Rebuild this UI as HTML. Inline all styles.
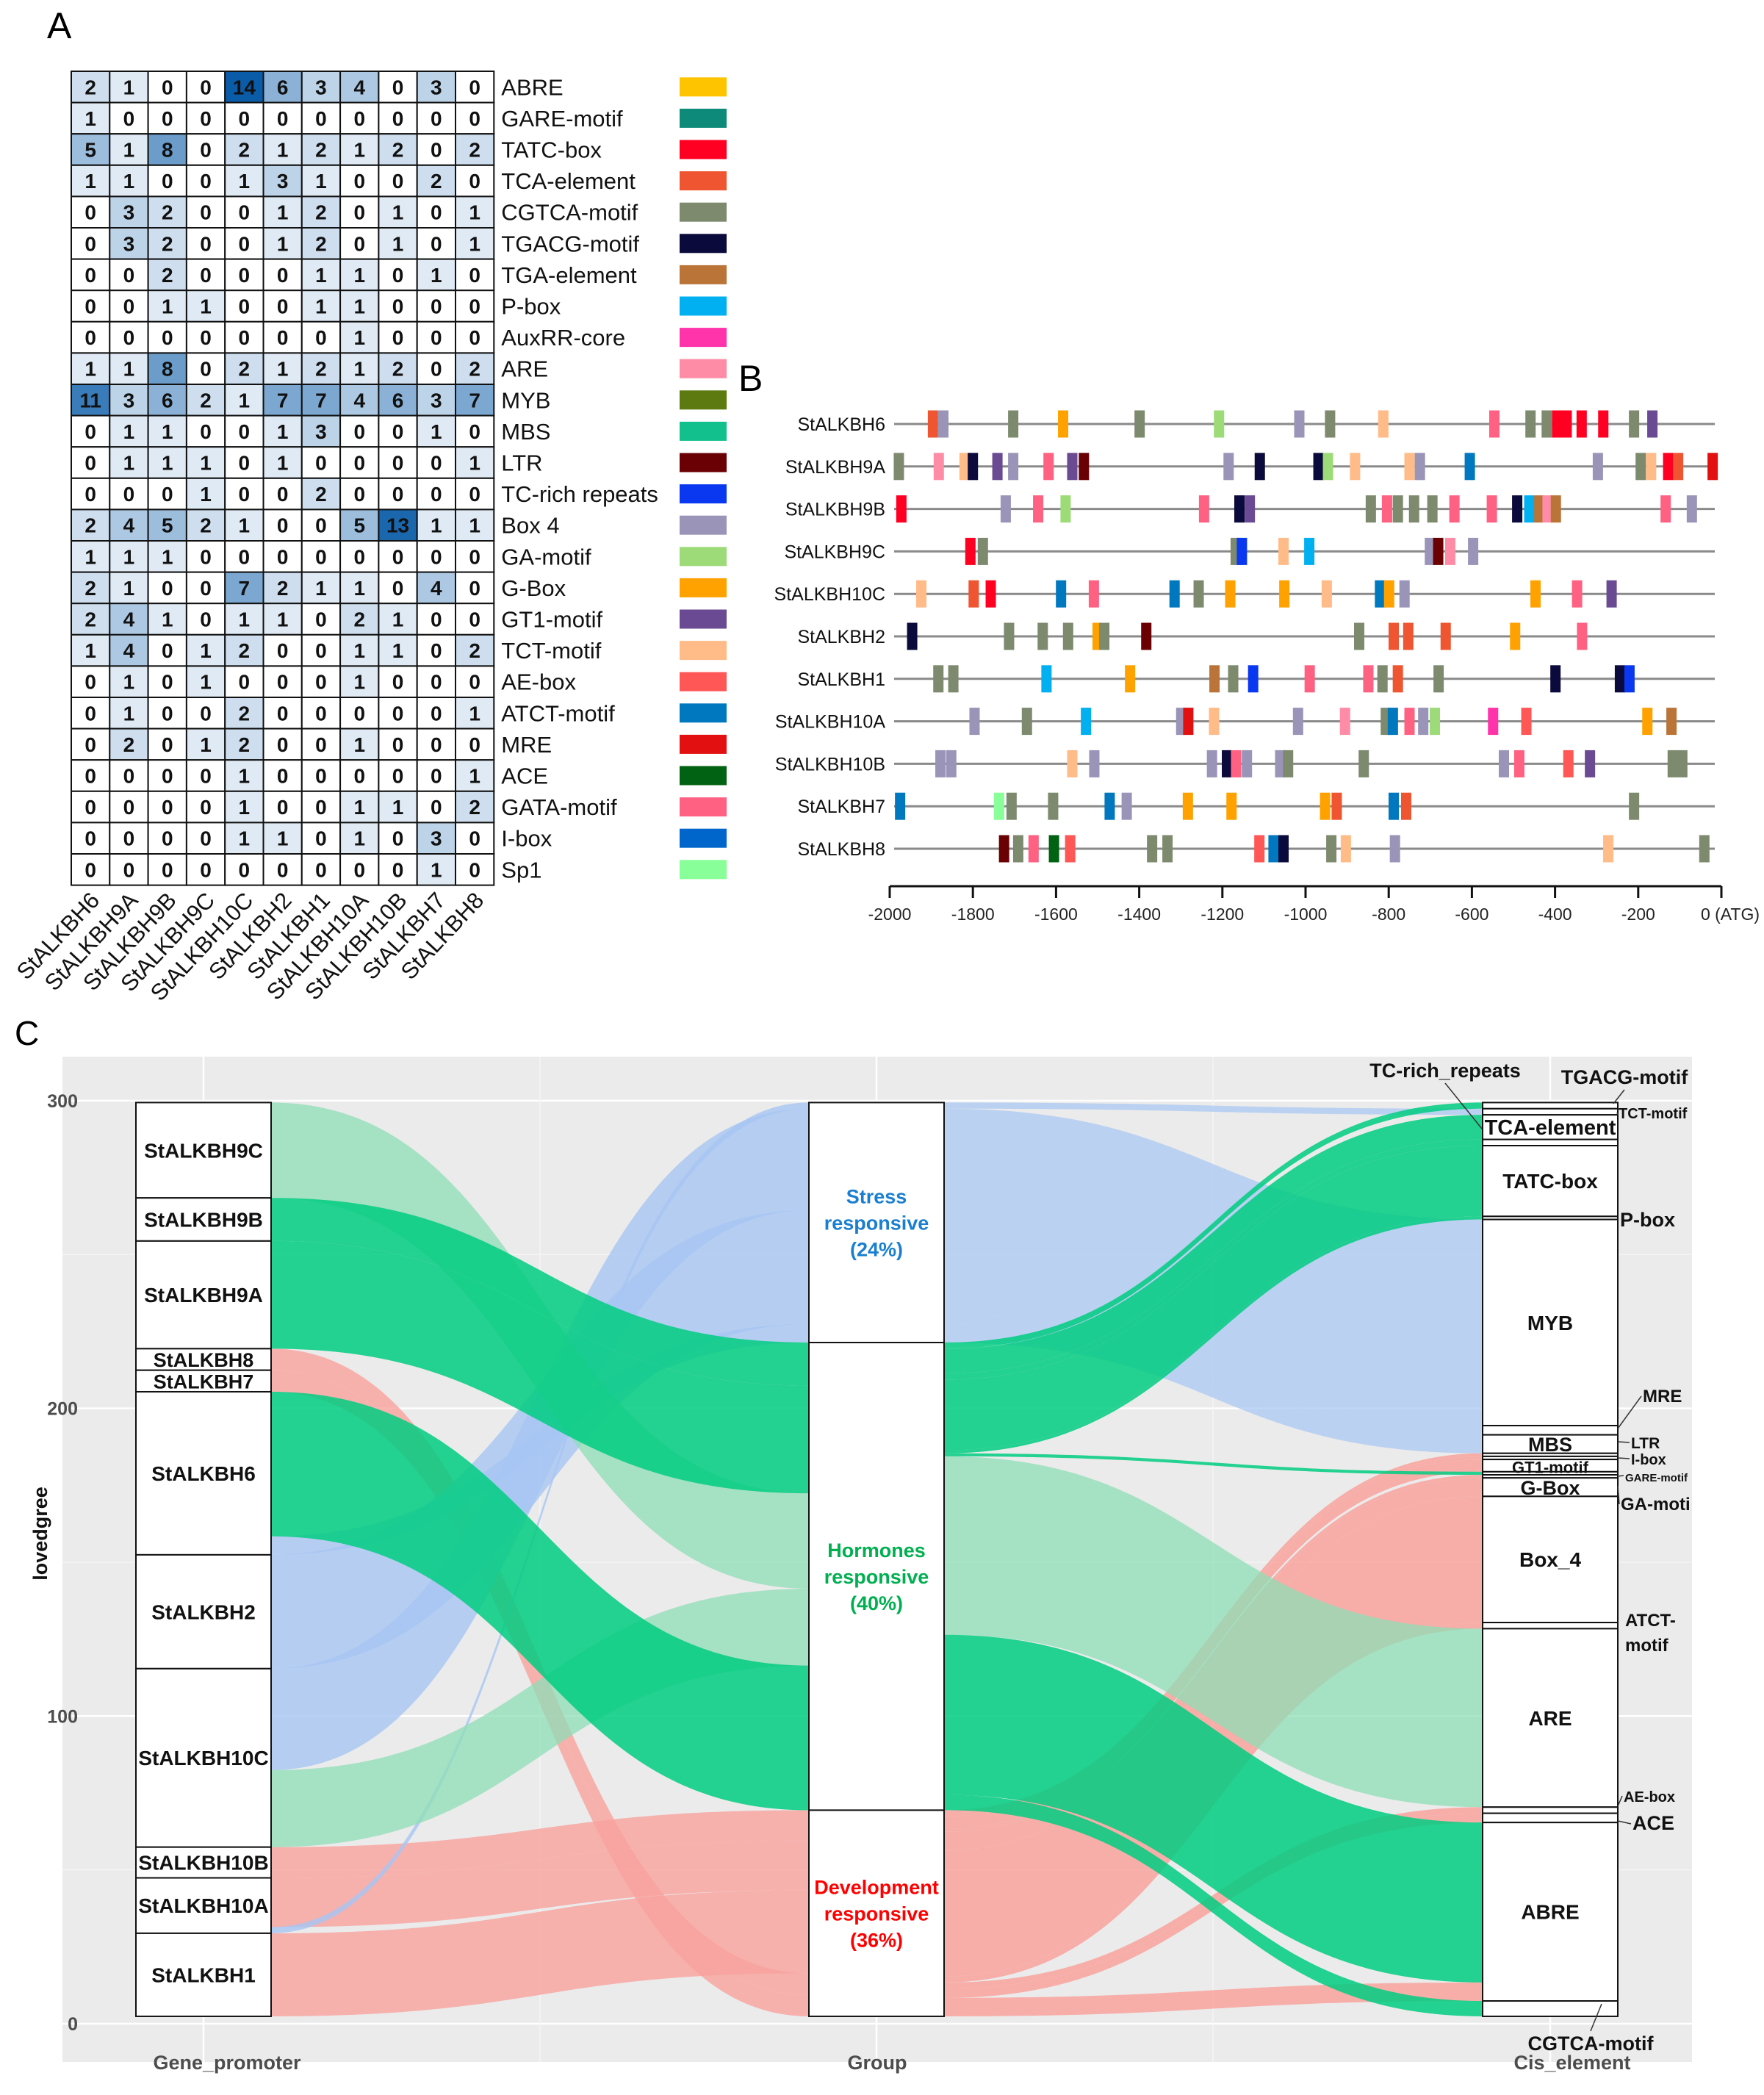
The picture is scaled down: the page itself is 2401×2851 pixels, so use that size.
<!DOCTYPE html>
<html><head><meta charset="utf-8"><style>
html,body{margin:0;padding:0;background:#fff;}
svg{display:block;}
text{font-family:"Liberation Sans",sans-serif;}
.nar{font-family:"Liberation Sans Narrow","Liberation Sans",sans-serif;}
</style></head><body>
<svg id="fig" width="2401" height="2851" viewBox="0 0 2401 2851" xmlns="http://www.w3.org/2000/svg">
<text x="64" y="52" font-size="50">A</text>
<text x="1005" y="532" font-size="50">B</text>
<text x="20" y="1422" font-size="46">C</text>
<g id="pa"></g>
<g id="pb"></g>
<g id="pc"></g>
</svg>
<script>
// ---------- Panel A data ----------
const hmGenes = ['StALKBH6','StALKBH9A','StALKBH9B','StALKBH9C','StALKBH10C','StALKBH2','StALKBH1','StALKBH10A','StALKBH10B','StALKBH7','StALKBH8'];
const hmElements = ['ABRE','GARE-motif','TATC-box','TCA-element','CGTCA-motif','TGACG-motif','TGA-element','P-box','AuxRR-core','ARE','MYB','MBS','LTR','TC-rich repeats','Box 4','GA-motif','G-Box','GT1-motif','TCT-motif','AE-box','ATCT-motif','MRE','ACE','GATA-motif','I-box','Sp1'];
const hmValues = [
[2,1,0,0,14,6,3,4,0,3,0],
[1,0,0,0,0,0,0,0,0,0,0],
[5,1,8,0,2,1,2,1,2,0,2],
[1,1,0,0,1,3,1,0,0,2,0],
[0,3,2,0,0,1,2,0,1,0,1],
[0,3,2,0,0,1,2,0,1,0,1],
[0,0,2,0,0,0,1,1,0,1,0],
[0,0,1,1,0,0,1,1,0,0,0],
[0,0,0,0,0,0,0,1,0,0,0],
[1,1,8,0,2,1,2,1,2,0,2],
[11,3,6,2,1,7,7,4,6,3,7],
[0,1,1,0,0,1,3,0,0,1,0],
[0,1,1,1,0,1,0,0,0,0,1],
[0,0,0,1,0,0,2,0,0,0,0],
[2,4,5,2,1,0,0,5,13,1,1],
[1,1,1,0,0,0,0,0,0,0,0],
[2,1,0,0,7,2,1,1,0,4,0],
[2,4,1,0,1,1,0,2,1,0,0],
[1,4,0,1,2,0,0,1,1,0,2],
[0,1,0,1,0,0,0,1,0,0,0],
[0,1,0,0,2,0,0,0,0,0,1],
[0,2,0,1,2,0,0,1,0,0,0],
[0,0,0,0,1,0,0,0,0,0,1],
[0,0,0,0,1,0,0,1,1,0,2],
[0,0,0,0,1,1,0,1,0,3,0],
[0,0,0,0,0,0,0,0,0,1,0]];
const motifColor = {ABRE:'#FFC400',GARE:'#0E8A7A',TATC:'#FF0022',TCA:'#EE5530',CGTCA:'#7D8A6E',TGACG:'#0A0A3C',TGA:'#BA7438',PBOX:'#00B0F0',AUX:'#FF33AA',ARE:'#FF8CA6',MYB:'#5C7A10',MBS:'#12C08E',LTR:'#6A0004',TC:'#0A38F0',BOX4:'#9A94B8',GA:'#9CDB78',GBOX:'#FFA200',GT1:'#6A4A92',TCT:'#FFBB88',AE:'#FF5656',ATCT:'#0078C0',MRE:'#E21010',ACE:'#006212',GATA:'#FF6182',IBOX:'#0066CC',SP1:'#88FF98'};
const swatchKeys = ['ABRE','GARE','TATC','TCA','CGTCA','TGACG','TGA','PBOX','AUX','ARE','MYB','MBS','LTR','TC','BOX4','GA','GBOX','GT1','TCT','AE','ATCT','MRE','ACE','GATA','IBOX','SP1'];

// ---------- Panel B data ----------
const promoterGenes = ['StALKBH6','StALKBH9A','StALKBH9B','StALKBH9C','StALKBH10C','StALKBH2','StALKBH1','StALKBH10A','StALKBH10B','StALKBH7','StALKBH8'];
const bTicks = [-2000,-1800,-1600,-1400,-1200,-1000,-800,-600,-400,-200,0];
const bTickLabels = ['-2000','-1800','-1600','-1400','-1200','-1000','-800','-600','-400','-200','0 (ATG)'];
const sitesB = [
[[-1896,'TCA'],[-1871,'BOX4'],[-1703,'CGTCA'],[-1583,'GBOX'],[-1399,'CGTCA'],[-1208,'GA'],[-1015,'BOX4'],[-941,'CGTCA'],[-813,'TCT'],[-546,'GATA'],[-459,'CGTCA'],[-420,'CGTCA'],[-395,'TATC'],[-372,'TATC'],[-336,'TATC'],[-284,'TATC'],[-210,'CGTCA'],[-166,'GT1']],
[[-1978,'CGTCA'],[-1882,'ARE'],[-1820,'TCT'],[-1800,'TGACG'],[-1741,'GT1'],[-1703,'BOX4'],[-1618,'GATA'],[-1561,'GT1'],[-1533,'LTR'],[-1185,'BOX4'],[-1110,'TGACG'],[-969,'TGACG'],[-946,'GA'],[-881,'TCT'],[-750,'TCT'],[-725,'BOX4'],[-605,'ATCT'],[-297,'BOX4'],[-194,'CGTCA'],[-169,'TCT'],[-128,'TATC'],[-104,'TCA'],[-21,'MRE']],
[[-1972,'TATC'],[-1721,'BOX4'],[-1643,'GATA'],[-1577,'GA'],[-1244,'GATA'],[-1159,'TGACG'],[-1134,'GT1'],[-843,'CGTCA'],[-804,'GATA'],[-778,'CGTCA'],[-739,'CGTCA'],[-695,'CGTCA'],[-642,'GATA'],[-552,'GATA'],[-491,'TGACG'],[-462,'PBOX'],[-438,'TGA'],[-418,'ARE'],[-398,'TGA'],[-134,'GATA'],[-71,'BOX4']],
[[-1806,'TATC'],[-1776,'CGTCA'],[-1168,'CGTCA'],[-1153,'TC'],[-1053,'TCT'],[-991,'PBOX'],[-701,'BOX4'],[-681,'LTR'],[-652,'ARE'],[-597,'BOX4']],
[[-1924,'TCT'],[-1798,'TCA'],[-1757,'TATC'],[-1588,'ATCT'],[-1509,'GATA'],[-1315,'ATCT'],[-1257,'CGTCA'],[-1181,'GBOX'],[-1051,'GBOX'],[-949,'TCT'],[-821,'ATCT'],[-799,'GBOX'],[-762,'BOX4'],[-447,'GBOX'],[-347,'GATA'],[-264,'GT1']],
[[-1946,'TGACG'],[-1713,'CGTCA'],[-1632,'CGTCA'],[-1571,'CGTCA'],[-1500,'GBOX'],[-1484,'CGTCA'],[-1383,'LTR'],[-871,'CGTCA'],[-788,'TCA'],[-753,'TCA'],[-663,'TCA'],[-496,'GBOX'],[-335,'GATA']],
[[-1883,'CGTCA'],[-1847,'CGTCA'],[-1623,'PBOX'],[-1422,'GBOX'],[-1219,'TGA'],[-1174,'CGTCA'],[-1126,'TC'],[-990,'GATA'],[-849,'GATA'],[-815,'CGTCA'],[-778,'TCA'],[-680,'CGTCA'],[-399,'TGACG'],[-244,'TGACG'],[-221,'TC']],
[[-1796,'BOX4'],[-1670,'CGTCA'],[-1528,'PBOX'],[-1299,'BOX4'],[-1282,'MRE'],[-1220,'TCT'],[-1018,'BOX4'],[-905,'ARE'],[-807,'CGTCA'],[-790,'ATCT'],[-750,'GATA'],[-717,'BOX4'],[-689,'GA'],[-549,'AUX'],[-469,'AE'],[-178,'GBOX'],[-120,'TGA']],
[[-1878,'BOX4'],[-1852,'BOX4'],[-1561,'TCT'],[-1508,'BOX4'],[-1225,'BOX4'],[-1189,'TGACG'],[-1167,'GATA'],[-1141,'BOX4'],[-1061,'BOX4'],[-1042,'CGTCA'],[-860,'CGTCA'],[-523,'BOX4'],[-486,'GATA'],[-368,'AE'],[-316,'GT1'],[-117,'CGTCA'],[-94,'CGTCA']],
[[-1975,'ATCT'],[-1737,'SP1'],[-1707,'CGTCA'],[-1607,'CGTCA'],[-1471,'ATCT'],[-1430,'BOX4'],[-1283,'GBOX'],[-1178,'GBOX'],[-953,'GBOX'],[-925,'TCA'],[-788,'ATCT'],[-758,'TCA'],[-210,'CGTCA']],
[[-1725,'LTR'],[-1691,'CGTCA'],[-1654,'GATA'],[-1605,'ACE'],[-1566,'AE'],[-1369,'CGTCA'],[-1332,'CGTCA'],[-1111,'AE'],[-1077,'ATCT'],[-1053,'TGACG'],[-938,'CGTCA'],[-903,'TCT'],[-785,'BOX4'],[-272,'TCT'],[-41,'CGTCA']]];

// ---------- Panel C data ----------
const geneStrata = ['StALKBH9C','StALKBH9B','StALKBH9A','StALKBH8','StALKBH7','StALKBH6','StALKBH2','StALKBH10C','StALKBH10B','StALKBH10A','StALKBH1'];
const groupStrata = ['Stress','Hormones','Development'];
const cisStrata = ['TGACG-motif','TCT-motif','TCA-element','TC-rich_repeats','TATC-box','P-box','MYB','MRE','MBS','LTR','I-box','GT1-motif','GARE-motif','GA-motif','G-Box','Box_4','ATCT-motif','ARE','AE-box','ACE','ABRE','CGTCA-motif'];
const flowGene = ['StALKBH9C','StALKBH9B','StALKBH9A','StALKBH8','StALKBH7','StALKBH6','StALKBH6','StALKBH2','StALKBH10C','StALKBH10C','StALKBH10B','StALKBH10A','StALKBH10A','StALKBH1'];
const flowGeneGroup = ['Hormones','Hormones','Hormones','Development','Development','Hormones','Stress','Stress','Stress','Hormones','Development','Development','Stress','Development'];
const flowGeneValue = [31,14,35,7,7,47,6,37,33,25,10,16,2,27];
const flowCisGroup = ['Stress','Stress','Stress','Stress','Hormones','Hormones','Hormones','Hormones','Hormones','Hormones','Hormones','Hormones','Hormones','Development','Development','Development','Development','Development','Development','Development','Development','Development','Development'];
const flowCis = ['TCT-motif','MYB','MRE','MBS','TGACG-motif','TCA-element','TC-rich_repeats','TATC-box','P-box','GARE-motif','ARE','ABRE','CGTCA-motif','LTR','I-box','GT1-motif','GA-motif','G-Box','Box_4','ATCT-motif','AE-box','ACE','ABRE'];
const flowCisValue = [2,67,3,6,2,8,2,23,1,1,58,52,5,1,1,4,1,6,41,2,2,3,6];
const yTicks = [0,100,200,300];
// lode order of genes on the left side of each group stratum
const stressLodeOrder = ['StALKBH10A','StALKBH10C','StALKBH2','StALKBH6'];
const hormoneLodeOrder = ['StALKBH9B','StALKBH9A','StALKBH9C','StALKBH10C','StALKBH6'];
const devLodeOrder = ['StALKBH10B','StALKBH10A','StALKBH1','StALKBH8','StALKBH7'];

const NS='http://www.w3.org/2000/svg';
function mk(tag, parent, attrs){const e=document.createElementNS(NS,tag);for(const k in attrs)e.setAttribute(k,attrs[k]);parent.appendChild(e);return e;}
function mix(c,t){const r=parseInt(c.substr(1,2),16),g=parseInt(c.substr(3,2),16),b=parseInt(c.substr(5,2),16);
 return 'rgb('+Math.round(255+(r-255)*t)+','+Math.round(255+(g-255)*t)+','+Math.round(255+(b-255)*t)+')';}

// ---------- Panel A ----------
(function(){
 const g=document.getElementById('pa');
 const x0=97,y0=97,cw=52.3,rh=42.6;
 const vmax=14;
 hmElements.forEach((el,r)=>{
  hmGenes.forEach((gn,c)=>{
   const v=hmValues[r][c];
   const t=v===0?0:Math.min(1,0.05+0.95*Math.pow(v/vmax,0.95));
   const rc=mk('rect',g,{x:x0+c*cw,y:y0+r*rh,width:cw,height:rh,fill:v===0?'#ffffff':mix('#0B5CA8',t),stroke:'#111',"stroke-width":2});
   
   
   const tx=mk('text',g,{x:x0+c*cw+cw/2,y:y0+r*rh+rh/2+10,"font-size":28,"font-weight":"bold","text-anchor":"middle",fill:'#111',class:'nar'});
   tx.textContent=v;
   
   
  });
  const lb=mk('text',g,{x:x0+11*cw+10,y:y0+r*rh+rh/2+11,"font-size":31,fill:'#111',class:'nar'});
  lb.textContent=el;
  
  
  const sw=mk('rect',g,{x:925,y:y0+r*rh+rh/2-13,width:64,height:26,fill:motifColor[swatchKeys[r]]});
  
  
 });
 hmGenes.forEach((gn,c)=>{
  const cx=x0+c*cw+cw/2+14, cy=y0+26*rh+22;
  const t=mk('text',g,{x:cx,y:cy,"font-size":31,"text-anchor":"end",fill:'#111',class:'nar',transform:'rotate(-47 '+cx+' '+cy+')'});
  t.textContent=gn;
  
  
 });
})();

// ---------- Panel B ----------
(function(){
 const g=document.getElementById('pb');
 const xa=1211,xb=2343,y0=577,dy=57.8;
 const X=bp=>xa+(bp+2000)/2000*(xb-xa);
 promoterGenes.forEach((gn,i)=>{
  const y=y0+i*dy;
  const ln=mk('line',g,{x1:1217,x2:2334,y1:y,y2:y,stroke:'#8a8a8a',"stroke-width":3});
  
  
  const lb=mk('text',g,{x:1205,y:y+9,"font-size":25,"text-anchor":"end",fill:'#111'});
  lb.textContent=gn;
  
  
  sitesB[i].forEach(s=>{
   const r=mk('rect',g,{x:X(s[0])-7,y:y-18.5,width:14,height:37,fill:motifColor[s[1]]});
   
   
  });
 });
 const ay=1206;
 const ax=mk('line',g,{x1:X(-2000),x2:X(0),y1:ay,y2:ay,stroke:'#111',"stroke-width":3});
 
 
 bTicks.forEach((t,i)=>{
  const tk=mk('line',g,{x1:X(t),x2:X(t),y1:ay,y2:ay+16,stroke:'#111',"stroke-width":3});
  
  
  const tl=mk('text',g,{x:X(t)+(i===10?12:0),y:ay+46,"font-size":23,"text-anchor":"middle",fill:'#222',class:'nar'});
  tl.textContent=bTickLabels[i];
  
  
 });
})();

// ---------- Panel C ----------
(function(){
 const g=document.getElementById('pc');
 const py0=1438,py1=2806,px0=85,px1=2303;
 const Y=v=>2754-v*4.187;
 const base=2.4;
 const bg=mk('rect',g,{x:px0,y:py0,width:px1-px0,height:py1-py0,fill:'#EBEBEB'});
 
 
 [50,150,250].forEach(v=>{const l=mk('line',g,{x1:px0,x2:px1,y1:Y(v),y2:Y(v),stroke:'#f5f5f5',"stroke-width":1.5});});
 yTicks.forEach(v=>{const l=mk('line',g,{x1:px0,x2:px1,y1:Y(v),y2:Y(v),stroke:'#fff',"stroke-width":2.5});
  const t=mk('text',g,{x:106,y:Y(v)+9,"font-size":25,"font-weight":"bold","text-anchor":"end",fill:'#4d4d4d'});t.textContent=v;});
 const colX=[[185,369],[1101,1285],[2018,2202]];
 [735,1651].forEach(x=>{const l=mk('line',g,{x1:x,x2:x,y1:py0,y2:py1,stroke:'#f5f5f5',"stroke-width":1.5});});
 colX.forEach(c=>{const x=(c[0]+c[1])/2;const l=mk('line',g,{x1:x,x2:x,y1:py0,y2:py1,stroke:'#fff',"stroke-width":2.5});});

 function strata(names, groupsArr, valsArr){
  const tot={};names.forEach(n=>tot[n]=0);
  groupsArr.forEach((n,i)=>tot[n]+=valsArr[i]);
  let s=names.reduce((a,n)=>a+tot[n],0)+base;
  const ext={};
  names.forEach(n=>{ext[n]={top:s,bot:s-tot[n],cur:s};s-=tot[n];});
  return ext;
 }
 const gE=strata(geneStrata,flowGene,flowGeneValue);
 const grE=strata(groupStrata,flowGeneGroup,flowGeneValue);
 const grE2=strata(groupStrata,flowCisGroup,flowCisValue);
 const cE=strata(cisStrata,flowCis,flowCisValue);
 const COL={Stress:'#A6C6F2',Hormones:'#00CC80',Development:'#F9A39E'};
 const lightGreen={'StALKBH9C':1,'StALKBH10C':1,'ARE':1};
 function band(x1,a1,b1,x2,a2,b2,fill,op,name){
  const xm=(x1+x2)/2;
  const d='M'+x1+' '+a1+' C'+xm+' '+a1+' '+xm+' '+a2+' '+x2+' '+a2+' L'+x2+' '+b2+' C'+xm+' '+b2+' '+xm+' '+b1+' '+x1+' '+b1+' Z';
  const p=mk('path',g,{d:d,fill:fill,"fill-opacity":op});
  
  
 }
 const lodeOrder={Stress:stressLodeOrder,Hormones:hormoneLodeOrder,Development:devLodeOrder};
 const order1=flowGene.map((n,i)=>i).sort((a,b)=>groupStrata.indexOf(flowGeneGroup[a])-groupStrata.indexOf(flowGeneGroup[b])||lodeOrder[flowGeneGroup[a]].indexOf(flowGene[a])-lodeOrder[flowGeneGroup[b]].indexOf(flowGene[b]));
 const grPos={};
 order1.forEach(i=>{const e=grE[flowGeneGroup[i]];grPos[i]=e.cur;e.cur-=flowGeneValue[i];});
 const drawOrder1=[3,4,10,11,13,7,8,12,6,0,9,1,2,5];
 const gPos={};
 flowGene.forEach((n,i)=>{const e=gE[n];gPos[i]=e.cur;e.cur-=flowGeneValue[i];});
 drawOrder1.forEach(i=>{
  const grp=flowGeneGroup[i];let fill=COL[grp],op=grp==='Hormones'?0.85:0.8;
  if(grp==='Hormones'&&lightGreen[flowGene[i]]){fill='#8EDDB5';op=0.75;}
  const v=flowGeneValue[i];
  band(colX[0][1],Y(gPos[i]),Y(gPos[i]-v),colX[1][0],Y(grPos[i]),Y(grPos[i]-v),fill,op,'alluvium-gene-to-group');
 });
 const gr2Pos={};
 const order2=flowCis.map((n,i)=>i).sort((a,b)=>groupStrata.indexOf(flowCisGroup[a])-groupStrata.indexOf(flowCisGroup[b])||cisStrata.indexOf(flowCis[a])-cisStrata.indexOf(flowCis[b]));
 order2.forEach(i=>{const e=grE2[flowCisGroup[i]];gr2Pos[i]=e.cur;e.cur-=flowCisValue[i];});
 const cPos={};
 const order3=flowCis.map((n,i)=>i).sort((a,b)=>cisStrata.indexOf(flowCis[a])-cisStrata.indexOf(flowCis[b])||groupStrata.indexOf(flowCisGroup[a])-groupStrata.indexOf(flowCisGroup[b]));
 order3.forEach(i=>{const e=cE[flowCis[i]];cPos[i]=e.cur;e.cur-=flowCisValue[i];});
 const seq=[].concat(order2.filter(i=>flowCisGroup[i]==='Development'),order2.filter(i=>flowCisGroup[i]==='Stress'),order2.filter(i=>flowCisGroup[i]==='Hormones'));
 seq.forEach(i=>{
  const grp=flowCisGroup[i];let fill=COL[grp],op=grp==='Stress'?0.72:0.85;
  if(grp==='Hormones'&&lightGreen[flowCis[i]]){fill='#8EDDB5';op=0.75;}
  const v=flowCisValue[i];
  band(colX[1][1],Y(gr2Pos[i]),Y(gr2Pos[i]-v),colX[2][0],Y(cPos[i]),Y(cPos[i]-v),fill,op,'alluvium-group-to-cis');
 });
 function drawStrata(ext,names,col,nm){
  names.forEach(n=>{const e=ext[n];
   const r=mk('rect',g,{x:col[0],y:Y(e.top),width:col[1]-col[0],height:Y(e.bot)-Y(e.top),fill:'#fff',stroke:'#111',"stroke-width":2});
   
   
  });
 }
 drawStrata(gE,geneStrata,colX[0],'gene-stratum');
 drawStrata(grE,groupStrata,colX[1],'group-stratum');
 drawStrata(cE,cisStrata,colX[2],'cis-stratum');
 geneStrata.forEach(n=>{const e=gE[n];const cy=(Y(e.top)+Y(e.bot))/2;
  const t=mk('text',g,{x:277,y:cy+10,"font-size":(e.top-e.bot)<10?27:28,"font-weight":"bold","text-anchor":"middle",fill:'#111'});
  t.textContent=n;});
 const grpText=[['Stress','responsive','(24%)'],['Hormones','responsive','(40%)'],['Development','responsive','(36%)']];
 const grpCol=['#1A7FD0','#00B050','#FF0000'];
 groupStrata.forEach((n,k)=>{const e=grE[n];const cy=(Y(e.top)+Y(e.bot))/2;
  grpText[k].forEach((s,j)=>{const t=mk('text',g,{x:1193,y:cy+(j-1)*36+10,"font-size":27,"font-weight":"bold","text-anchor":"middle",fill:grpCol[k]});
   t.textContent=s;});});
 const inside={'TCA-element':29,'TATC-box':28,'MYB':28,'MBS':27,'GT1-motif':22,'G-Box':27,'Box_4':28,'ARE':28,'ABRE':28};
 for(const n in inside){const e=cE[n];const cy=(Y(e.top)+Y(e.bot))/2;
  const t=mk('text',g,{x:2110,y:cy+10,"font-size":inside[n],"font-weight":"bold","text-anchor":"middle",fill:'#111'});
  t.textContent=n;}
 const outside=[['TGACG-motif',2211,1475,27,'middle',2196,1502],['TCT-motif',2203,1522,20,'start',2202,1517],['TC-rich_repeats',1967,1466,27,'middle',2017,1536],
  ['P-box',2205,1669,27,'start',2202,1660],['MRE',2236,1908,24,'start',2202,1944],['LTR',2220,1971,21,'start',2202,1962],['I-box',2220,1993,20,'start',2202,1984],
  ['GARE-motif',2212,2016,15,'start',2202,2009],['GA-moti',2206,2055,24,'start',2202,2022],['ATCT-motif',2212,2213,24,'start',0,0],['AE-box',2210,2452,20,'start',2202,2458],
  ['ACE',2222,2490,27,'start',2202,2478],['CGTCA-motif',2165,2790,27,'middle',2180,2727]];
 outside.forEach(o=>{
  if(o[0]==='ATCT-motif'){
   ['ATCT-','motif'].forEach((s,j)=>{const t=mk('text',g,{x:o[1],y:o[2]+j*34,"font-size":o[3],"font-weight":"bold","text-anchor":"start",fill:'#111'});t.textContent=s;});
   return;}
  const t=mk('text',g,{x:o[1],y:o[2],"font-size":o[3],"font-weight":"bold","text-anchor":o[4],fill:'#111'});
  t.textContent=o[0];
  if(o[5]){const lx=o[4]==='middle'?o[1]:o[1]-2;const ly=o[4]==='middle'?o[2]+(o[6]>o[2]?8:-26):o[2]-8;
   const l=mk('line',g,{x1:lx,y1:ly,x2:o[5],y2:o[6],stroke:'#333',"stroke-width":1.5});}
 });
 const yt=mk('text',g,{x:64,y:2087,"font-size":27,"font-weight":"bold","text-anchor":"middle",fill:'#111',transform:'rotate(-90 64 2087)'});
 yt.textContent='lovedgree';
 [['Gene_promoter',309],['Group',1194],['Cis_element',2140]].forEach(a=>{const t=mk('text',g,{x:a[1],y:2816,"font-size":27,"font-weight":"bold","text-anchor":"middle",fill:'#4d4d4d'});
  t.textContent=a[0];});
})();
</script>
</body></html>
